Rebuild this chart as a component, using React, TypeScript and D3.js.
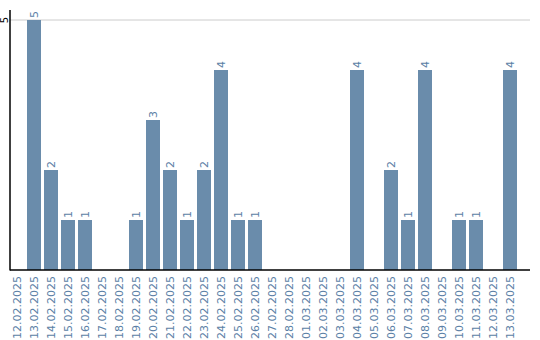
import React from "react";
import * as d3 from "d3";

const dates = [
  "12.02.2025","13.02.2025","14.02.2025","15.02.2025","16.02.2025","17.02.2025","18.02.2025",
  "19.02.2025","20.02.2025","21.02.2025","22.02.2025","23.02.2025","24.02.2025","25.02.2025",
  "26.02.2025","27.02.2025","28.02.2025","01.03.2025","02.03.2025","03.03.2025","04.03.2025",
  "05.03.2025","06.03.2025","07.03.2025","08.03.2025","09.03.2025","10.03.2025","11.03.2025",
  "12.03.2025","13.03.2025",
];
const counts = [0,5,2,1,1,0,0,1,3,2,1,2,4,1,1,0,0,0,0,0,4,0,2,1,4,0,1,1,0,4];
const yTicks = [5];

export default function App() {
  const W = 540, H = 340;
  const left = 10, top = 20, bottom = 270, right = 530;
  const x = d3.scaleBand<string>().domain(dates).range([left, left + dates.length * 17 - 3]).paddingInner(3 / 17).paddingOuter(0);
  const y = d3.scaleLinear().domain([0, 5]).range([bottom, top]);
  const bw = x.bandwidth();
  const font = "DejaVu Sans, Verdana, sans-serif";
  return (
    <svg width={W} height={H} style={{ position: "absolute", left: 0, top: 0 }} fontFamily={font}>
      {yTicks.map((t) => (
        <g key={t}>
          <line x1={left} x2={right} y1={y(t)} y2={y(t)} stroke="#cccccc" strokeWidth={1} />
          <text transform={`translate(8,${y(t)}) rotate(-90)`} textAnchor="middle" fontSize={10} fill="#000">{t}</text>
        </g>
      ))}
      {dates.map((d, i) => {
        const v = counts[i];
        const cx = (x(d) as number) + bw / 2;
        return (
          <g key={d}>
            {v > 0 && (
              <>
                <rect x={x(d)} y={y(v)} width={bw} height={bottom - y(v)} fill="#6a8cab" />
                <text transform={`translate(${cx + 4},${y(v) - 2}) rotate(-90)`} fontSize={11} fill="#5b7fa6">{v}</text>
              </>
            )}
            <text transform={`translate(${cx + 4},${bottom + 6}) rotate(-90)`} textAnchor="end" fontSize={11} fill="#5b7fa6">{d}</text>
          </g>
        );
      })}
      <line x1={left} x2={left} y1={10} y2={bottom + 0.5} stroke="#000" strokeWidth={1.5} />
      <line x1={left} x2={right} y1={bottom} y2={bottom} stroke="#000" strokeWidth={1.5} />
    </svg>
  );
}
